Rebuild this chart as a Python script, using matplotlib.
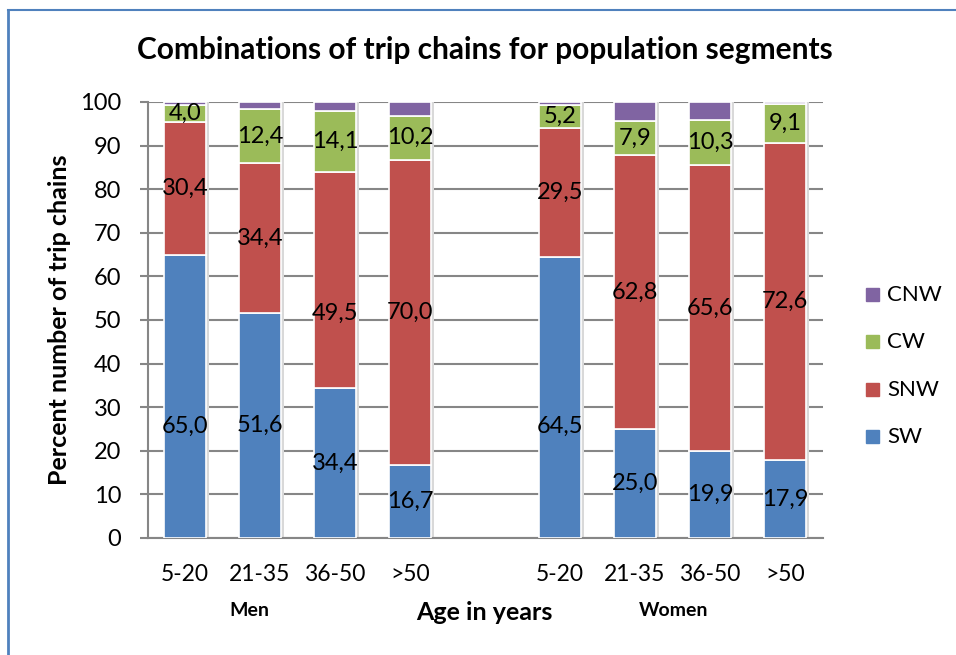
import matplotlib
matplotlib.use("Agg")
import matplotlib.pyplot as plt
from matplotlib.lines import Line2D
from matplotlib.patches import Rectangle

plt.rcParams['font.family'] = ['Lato', 'DejaVu Sans']

# Age groups (men then women), with an empty slot separating the two groups
age_labels = ["5-20", "21-35", "36-50", ">50", "", "5-20", "21-35", "36-50", ">50"]
series_names = ["SW", "SNW", "CW", "CNW"]
sw = [65.0, 51.6, 34.4, 16.7, None, 64.5, 25.0, 19.9, 17.9]
snw = [30.4, 34.4, 49.5, 70.0, None, 29.5, 62.8, 65.6, 72.6]
cw = [4.0, 12.4, 14.1, 10.2, None, 5.2, 7.9, 10.3, 9.1]
cnw = [0.6, 1.6, 2.0, 3.1, None, 0.8, 4.3, 4.2, 0.4]
y_ticks = [0, 10, 20, 30, 40, 50, 60, 70, 80, 90, 100]

colors = {"SW": "#4F81BD", "SNW": "#C0504D", "CW": "#9BBB59", "CNW": "#8064A2"}
series = {"SW": sw, "SNW": snw, "CW": cw, "CNW": cnw}
labelled = ["SW", "SNW", "CW"]

# a few data labels sit away from their segment centre
label_y_override = {(0, "SW"): 25.5, (5, "SW"): 25.5, (2, "SNW"): 51.6}

W, H = 956, 655
fig = plt.figure(figsize=(W / 100, H / 100), dpi=100)

# outer frame (left and top edges)
fig.add_artist(Line2D([8 / W, 8 / W], [0, 1 - 10 / H], transform=fig.transFigure,
                      color="#4F81BD", lw=2))
fig.add_artist(Line2D([8 / W, 1], [1 - 10 / H, 1 - 10 / H], transform=fig.transFigure,
                      color="#4F81BD", lw=1.5))

ax_l, ax_r, ax_t, ax_b = 147.5, 822.5, 102, 538
ax = fig.add_axes([ax_l / W, 1 - ax_b / H, (ax_r - ax_l) / W, (ax_b - ax_t) / H])

x = list(range(len(age_labels)))
bar_w = 0.57
bottoms = [0.0] * len(x)
for name in series_names:
    vals = series[name]
    for i, v in enumerate(vals):
        if v is None:
            continue
        # soft shadow behind each segment
        ax.bar(i + 0.03, v, bar_w, bottom=bottoms[i], color="#d9d9d9", zorder=2,
               linewidth=0)
        ax.bar(i, v, bar_w, bottom=bottoms[i], color=colors[name], edgecolor="white",
               linewidth=1.2, zorder=3)
        if name in labelled:
            ly = label_y_override.get((i, name), bottoms[i] + v / 2)
            ax.text(i, ly, f"{v:.1f}".replace(".", ","), ha="center", va="center",
                    fontsize=17, color="black", zorder=5)
        bottoms[i] += v

ax.set_xlim(-0.5, len(x) - 0.5)
ax.set_ylim(0, 100)
ax.set_yticks(y_ticks)
ax.set_yticklabels([str(t) for t in y_ticks], fontsize=17)
ax.set_xticks(x)
ax.set_xticklabels(age_labels, fontsize=16.5)
ax.tick_params(axis="x", length=0, pad=19)
ax.tick_params(axis="y", length=6, width=1.5, color="#868686", pad=13, direction="out")
ax.yaxis.grid(True, color="#868686", linewidth=1.5, zorder=0)
ax.set_axisbelow(True)
for s in ["top", "right"]:
    ax.spines[s].set_visible(False)
ax.spines["left"].set_color("#868686")
ax.spines["left"].set_linewidth(1.5)
ax.spines["bottom"].set_color("#868686")
ax.spines["bottom"].set_linewidth(1.5)

fig.text(485 / W, 1 - 50 / H, "Combinations of trip chains for population segments",
         ha="center", va="center", fontsize=21.5, fontweight="bold")
fig.text(60 / W, 1 - 320 / H, "Percent number of trip chains", rotation=90,
         ha="center", va="center", fontsize=18, fontweight="bold")
fig.text(249 / W, 1 - 611 / H, "Men", ha="center", va="center", fontsize=14,
         fontweight="bold")
fig.text(484 / W, 1 - 612 / H, "Age in years", ha="center", va="center", fontsize=18,
         fontweight="bold")
fig.text(674 / W, 1 - 611 / H, "Women", ha="center", va="center", fontsize=14,
         fontweight="bold")

# legend, top entry is the top stack segment
leg_y = {"CNW": 295, "CW": 342, "SNW": 390, "SW": 437}
for name in series_names:
    yy = leg_y[name]
    fig.add_artist(Rectangle((866 / W, 1 - (yy + 6) / H), 13 / W, 13 / H,
                             transform=fig.transFigure, color=colors[name]))
    fig.text(887 / W, 1 - yy / H, name, ha="left", va="center", fontsize=16)

fig.savefig("out.png", dpi=100)
